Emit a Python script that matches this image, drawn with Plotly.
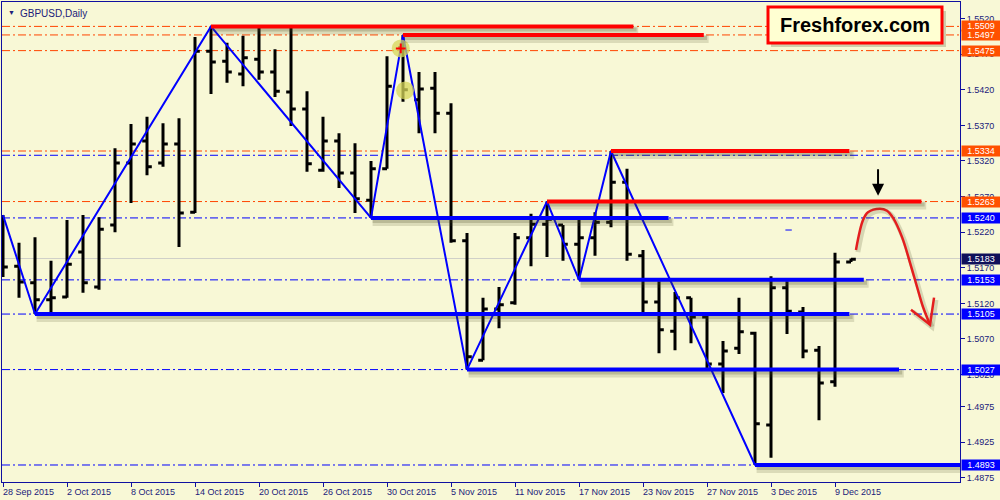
import plotly.graph_objects as go

# ---------------- data ----------------
tick_bars = [0, 4, 8, 12, 16, 20, 24, 28, 32, 36, 40, 44, 48, 52]
tick_labels = ["28 Sep 2015", "2 Oct 2015", "8 Oct 2015", "14 Oct 2015", "20 Oct 2015",
               "26 Oct 2015", "30 Oct 2015", "5 Nov 2015", "11 Nov 2015", "17 Nov 2015",
               "23 Nov 2015", "27 Nov 2015", "3 Dec 2015", "9 Dec 2015"]

opens = [1.5190, 1.5172, 1.5149, 1.5125, 1.5129, 1.5192, 1.5143, 1.5230, 1.5317, 1.5348,
         1.5317, 1.5344, 1.5248, 1.5474, 1.5460, 1.5442, 1.5463, 1.5445, 1.5417, 1.5393,
         1.5307, 1.5348, 1.5303, 1.5265, 1.5309, 1.5479, 1.5406, 1.5422, 1.5387, 1.5208,
         1.5040, 1.5112, 1.5121, 1.5212, 1.5231, 1.5230, 1.5203, 1.5212, 1.5234, 1.5290,
         1.5187, 1.5122, 1.5081, 1.5128, 1.5101, 1.5035, 1.5057, 1.5078, 1.4949, 1.5142,
         1.5108, 1.5054, 1.5010, 1.5178]
highs = [1.5244, 1.5205, 1.5213, 1.5180, 1.5237, 1.5244, 1.5241, 1.5338, 1.5372, 1.5382,
         1.5373, 1.5380, 1.5494, 1.5509, 1.5486, 1.5496, 1.5507, 1.5477, 1.5508, 1.5418,
         1.5382, 1.5359, 1.5345, 1.5320, 1.5467, 1.5497, 1.5445, 1.5445, 1.5401, 1.5219,
         1.5128, 1.5143, 1.5219, 1.5246, 1.5263, 1.5230, 1.5237, 1.5248, 1.5334, 1.5309,
         1.5195, 1.5151, 1.5136, 1.5128, 1.5108, 1.5067, 1.5128, 1.5080, 1.5158, 1.5151,
         1.5115, 1.5060, 1.5191, 1.5183]
lows = [1.5157, 1.5128, 1.5105, 1.5105, 1.5128, 1.5135, 1.5139, 1.5220, 1.5261, 1.5300,
        1.5312, 1.5199, 1.5247, 1.5414, 1.5430, 1.5425, 1.5434, 1.5410, 1.5369, 1.5305,
        1.5305, 1.5282, 1.5247, 1.5240, 1.5309, 1.5403, 1.5359, 1.5359, 1.5205, 1.5027,
        1.5040, 1.5085, 1.5118, 1.5172, 1.5185, 1.5180, 1.5153, 1.5187, 1.5227, 1.5180,
        1.5106, 1.5050, 1.5054, 1.5064, 1.5028, 1.4994, 1.5049, 1.4893, 1.4903, 1.5077,
        1.5043, 1.4956, 1.5003, 1.5178]
closes = [1.5171, 1.5150, 1.5125, 1.5128, 1.5175, 1.5149, 1.5224, 1.5317, 1.5344, 1.5312,
          1.5344, 1.5247, 1.5474, 1.5459, 1.5445, 1.5465, 1.5445, 1.5418, 1.5393, 1.5316,
          1.5348, 1.5303, 1.5267, 1.5309, 1.5425, 1.5420, 1.5421, 1.5387, 1.5208, 1.5045,
          1.5112, 1.5118, 1.5212, 1.5231, 1.5238, 1.5203, 1.5212, 1.5234, 1.5290, 1.5189,
          1.5122, 1.5083, 1.5128, 1.5101, 1.5035, 1.5053, 1.5080, 1.4951, 1.5142, 1.5109,
          1.5053, 1.5008, 1.5178, 1.5182]
bars = list(range(len(opens)))

zz_bars = [0, 2, 13, 23, 25, 29, 34, 36, 38, 47]
zz_prices = [1.5244, 1.5105, 1.5509, 1.5240, 1.5497, 1.5027, 1.5263, 1.5153, 1.5334, 1.4893]

seg_prices = [1.5509, 1.5497, 1.5334, 1.5263, 1.5240, 1.5153, 1.5105, 1.5027, 1.4893]
seg_start = [13, 25, 38, 34, 23, 36, 2, 29, 47]
seg_end = [39.4, 43.8, 52.9, 57.4, 41.6, 53.8, 52.9, 56.0, 61.0]
seg_colors = ["#FF0000", "#FF0000", "#FF0000", "#FF0000", "#0000FF", "#0000FF",
              "#0000FF", "#0000FF", "#0000FF"]

red_levels = [1.5509, 1.5497, 1.5475, 1.5334, 1.5263]
blue_levels = [1.5328, 1.5240, 1.5153, 1.5105, 1.5027, 1.4893]
bid_price = 1.5183

label_prices = [1.5509, 1.5497, 1.5475, 1.5334, 1.5263, 1.5240, 1.5183, 1.5153, 1.5105, 1.5027, 1.4893]
label_colors = ["#FF5000", "#FF5000", "#FF5000", "#FF5000", "#FF5000", "#0000FF", "#10105A",
                "#0000FF", "#0000FF", "#0000FF", "#0000FF"]

y_ticks = [1.5520, 1.5470, 1.5420, 1.5370, 1.5320, 1.5270, 1.5220, 1.5170, 1.5120,
           1.5070, 1.5020, 1.4975, 1.4925, 1.4875]

arrow_bars = [53.31, 53.75, 54.06, 54.81, 55.25, 55.63, 56.19, 56.69, 57.13, 57.5, 57.94]
arrow_prices = [1.5195, 1.5237, 1.5248, 1.5253, 1.5250, 1.5240, 1.5213, 1.5177, 1.5143, 1.5115, 1.5090]
barb_bars = [56.75, 57.94, 58.19]
barb_prices = [1.5111, 1.5090, 1.5128]

marker_bars = [24.86, 25.13]
marker_prices = [1.5478, 1.5419]

# ---------------- figure ----------------
BG = "#F8F8D6"
AX = "#1010A0"
TXT = "#20207A"
FONT = "Liberation Sans, Arial, sans-serif"

fig = go.Figure()

fig.add_trace(go.Ohlc(
    x=bars, open=opens, high=highs, low=lows, close=closes,
    increasing=dict(line=dict(color="black", width=3)),
    decreasing=dict(line=dict(color="black", width=3)),
    tickwidth=0.3, hoverinfo="skip", showlegend=False))

fig.add_trace(go.Scatter(x=zz_bars, y=zz_prices, mode="lines",
                         line=dict(color="#0000FF", width=2), hoverinfo="skip", showlegend=False))

fig.add_trace(go.Scatter(x=marker_bars, y=marker_prices, mode="markers",
                         marker=dict(size=18, color="rgba(215,215,90,0.75)"),
                         hoverinfo="skip", showlegend=False))
fig.add_trace(go.Scatter(x=marker_bars[:1], y=marker_prices[:1], mode="markers",
                         marker=dict(size=7, symbol="cross-thin", line=dict(color="#FF0000", width=2)),
                         hoverinfo="skip", showlegend=False))

# red hand-drawn arrow (shadow + stroke)
for col, w, dy in [("rgba(60,60,20,0.18)", 5, -0.0003), ("#E41E1E", 2.5, 0.0)]:
    fig.add_trace(go.Scatter(x=[b + (0.12 if dy else 0) for b in arrow_bars],
                             y=[p + dy for p in arrow_prices], mode="lines",
                             line=dict(color=col, width=w, shape="spline"),
                             hoverinfo="skip", showlegend=False))
    fig.add_trace(go.Scatter(x=[b + (0.12 if dy else 0) for b in barb_bars],
                             y=[p + dy for p in barb_prices], mode="lines",
                             line=dict(color=col, width=w),
                             hoverinfo="skip", showlegend=False))

shapes = []
# full-width dash-dot levels
for p in red_levels:
    shapes.append(dict(type="line", xref="paper", yref="y", x0=0, x1=1, y0=p, y1=p, layer="below",
                       line=dict(color="#FF4500", width=1, dash="8px,3px,2px,3px")))
for p in blue_levels:
    shapes.append(dict(type="line", xref="paper", yref="y", x0=0, x1=1, y0=p, y1=p, layer="below",
                       line=dict(color="#0000FF", width=1, dash="8px,3px,2px,3px")))
shapes.append(dict(type="line", xref="paper", yref="y", x0=0, x1=1, y0=bid_price, y1=bid_price,
                   layer="below", line=dict(color="#D0D0C8", width=1)))

# thick segments with shadow
for p, s, e, c in zip(seg_prices, seg_start, seg_end, seg_colors):
    shapes.append(dict(type="line", xref="x", yref="y", ysizemode="pixel", yanchor=p,
                       x0=s + 0.1, x1=e + 0.3, y0=-4, y1=-4,
                       line=dict(color="rgba(70,70,30,0.16)", width=8)))
    shapes.append(dict(type="line", xref="x", yref="y", ysizemode="pixel", yanchor=p,
                       x0=s + 0.1, x1=e + 0.2, y0=-3, y1=-3,
                       line=dict(color="rgba(70,70,30,0.22)", width=4)))
    shapes.append(dict(type="line", xref="x", yref="y", x0=s, x1=e, y0=p, y1=p,
                       line=dict(color=c, width=4)))

# stray small blue mark
shapes.append(dict(type="line", xref="x", yref="y", x0=48.9, x1=49.3, y0=1.5223, y1=1.5223,
                   line=dict(color="#0000FF", width=1)))

# logo box (pixel -> paper)
def px(xp):
    return (xp - 2) / 958.0

def py(yp):
    return (482 - yp) / 480.0

shapes.append(dict(type="rect", xref="paper", yref="paper", x0=px(771), x1=px(946), y0=py(47), y1=py(11),
                   line=dict(width=0), fillcolor="rgba(60,60,20,0.22)"))
shapes.append(dict(type="rect", xref="paper", yref="paper", x0=px(768), x1=px(942), y0=py(43), y1=py(7),
                   line=dict(color="#FF0000", width=3), fillcolor="#FFFFD2"))

annotations = []
annotations.append(dict(xref="paper", yref="paper", x=(px(768) + px(942)) / 2, y=(py(43) + py(7)) / 2,
                        text="<b>Freshforex.com</b>", showarrow=False, xanchor="center", yanchor="middle",
                        font=dict(family=FONT, size=20, color="black")))

# date labels
for b, t in zip(tick_bars, tick_labels):
    annotations.append(dict(xref="x", yref="paper", x=b, y=0, xanchor="left", yanchor="top",
                            xshift=-2, yshift=-3, text=t, showarrow=False,
                            font=dict(family=FONT, size=9, color=TXT)))

# price labels
for p, c in zip(label_prices, label_colors):
    annotations.append(dict(xref="paper", yref="y", x=1, y=p, xanchor="left", yanchor="middle",
                            xshift=1, text=f"{p:.4f}", showarrow=False, bgcolor=c, borderpad=0,
                            width=38, align="center",
                            font=dict(family=FONT, size=9, color="white")))

# title
annotations.append(dict(xref="paper", yref="paper", x=0, y=1, xanchor="left", yanchor="top",
                        xshift=4, yshift=-5, text="▼", showarrow=False,
                        font=dict(family=FONT, size=7, color=TXT)))
annotations.append(dict(xref="paper", yref="paper", x=0, y=1, xanchor="left", yanchor="top",
                        xshift=16, yshift=-4, text="GBPUSD,Daily", showarrow=False,
                        font=dict(family=FONT, size=10, color=TXT)))

# black down arrow
annotations.append(dict(xref="x", yref="y", x=54.69, y=1.5271, ax=0, ay=-28, text="",
                        showarrow=True, arrowhead=2, arrowsize=1.2, arrowwidth=2, arrowcolor="black"))

fig.update_layout(
    width=1000, height=500,
    margin=dict(l=2, r=40, t=2, b=18),
    paper_bgcolor=BG, plot_bgcolor=BG,
    showlegend=False,
    shapes=shapes, annotations=annotations,
    xaxis=dict(range=[-0.0625, 59.8125], rangeslider=dict(visible=False),
               showgrid=False, zeroline=False, showline=True, mirror=True,
               linecolor=AX, linewidth=1,
               tickmode="array", tickvals=tick_bars, ticktext=["" for _ in tick_bars],
               ticks="outside", ticklen=4, tickcolor=AX, tickwidth=1),
    yaxis=dict(range=[1.486911, 1.554327], side="right",
               showgrid=False, zeroline=False, showline=True, mirror=True,
               linecolor=AX, linewidth=1,
               tickmode="array", tickvals=y_ticks, ticktext=[f"{v:.4f}" for v in y_ticks],
               ticks="outside", ticklen=4, tickcolor=AX, tickwidth=1,
               tickfont=dict(family=FONT, size=9, color=TXT)),
)

fig.write_html("out.html", config={"displayModeBar": False},
               post_script="document.body.style.margin='0';document.body.style.background='%s';" % BG)
